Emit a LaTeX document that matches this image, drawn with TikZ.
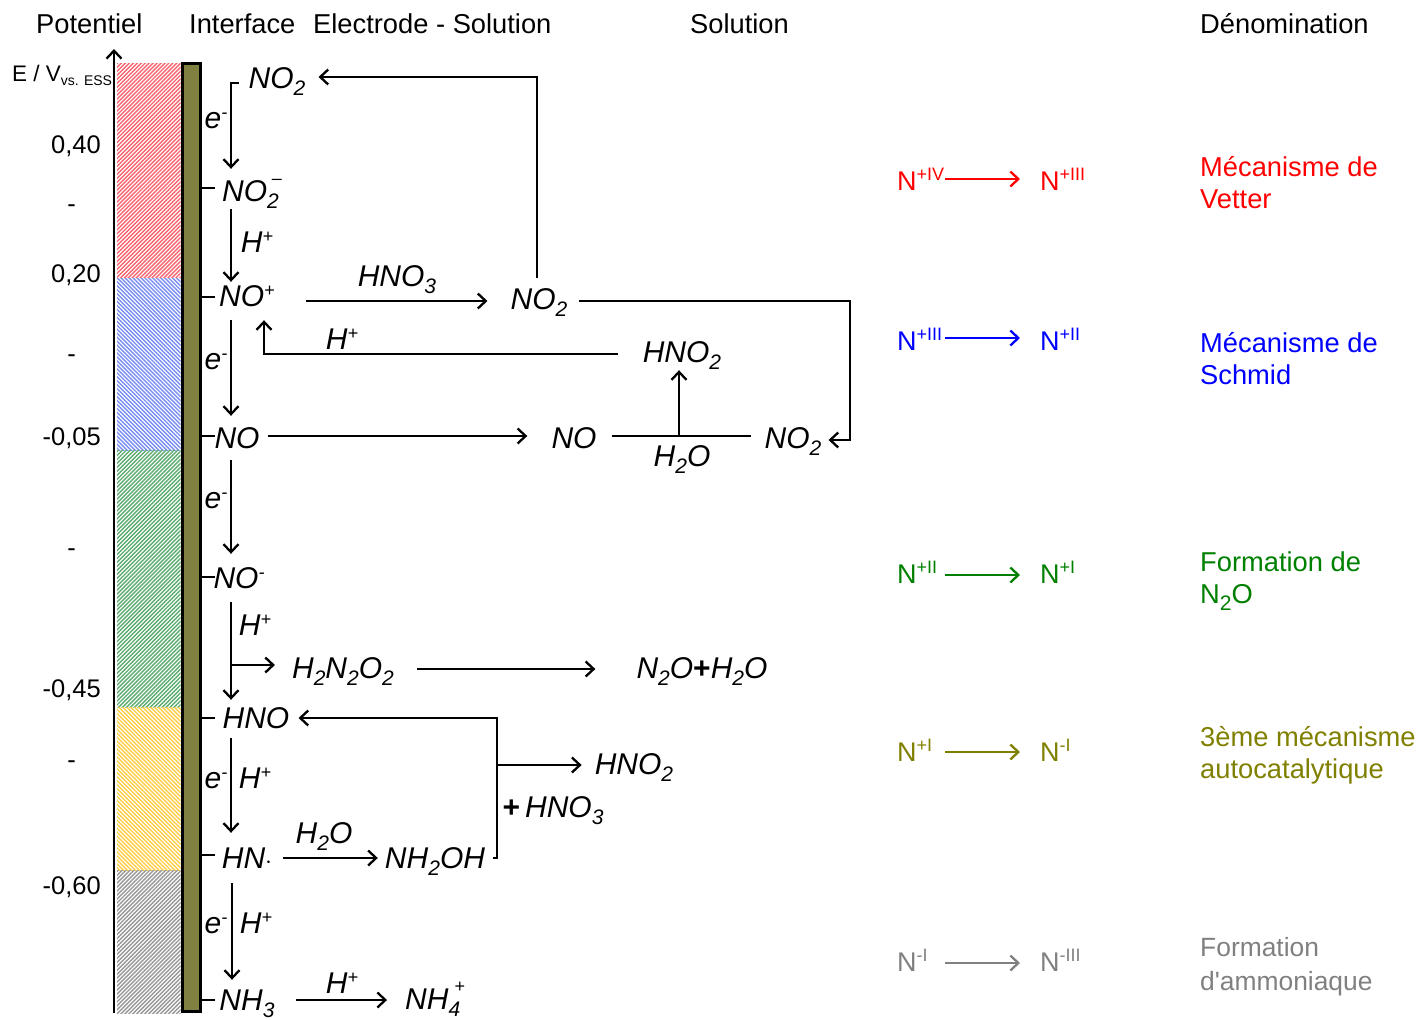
\documentclass[tikz,border=0pt]{standalone}
\usepackage{fontspec}
\setmainfont{Liberation Sans}
\usetikzlibrary{arrows.meta,patterns.meta}
\definecolor{wallolive}{RGB}{128,128,64}
\definecolor{nred}{RGB}{255,0,0}
\definecolor{nblue}{RGB}{0,0,255}
\definecolor{ngreen}{RGB}{0,128,0}
\definecolor{nolive}{RGB}{128,128,0}
\definecolor{ngray}{RGB}{128,128,128}
\definecolor{hred}{RGB}{245,100,110}
\definecolor{hblue}{RGB}{120,140,240}
\definecolor{hgreen}{RGB}{90,170,110}
\definecolor{hyellow}{RGB}{255,205,70}
\definecolor{hgray}{RGB}{150,150,150}
\newcommand{\dn}[1]{\raisebox{-7pt}{\fontsize{21}{21}\selectfont #1}}
\newcommand{\hi}[1]{\raisebox{10pt}{\fontsize{18}{18}\selectfont #1}}
\newcommand{\hier}[1]{\raisebox{17pt}{\fontsize{18}{18}\selectfont #1}}
\tikzset{
	chem/.style={anchor=base,yshift=2pt,inner ysep=0pt,inner xsep=8pt,text height=24pt,text depth=8pt,font=\fontsize{30}{32}\selectfont\itshape},
	head/.style={anchor=base west,inner sep=0pt,font=\fontsize{27.3}{32}\selectfont},
	volt/.style={anchor=base east,inner sep=0pt,font=\fontsize{25.5}{30}\selectfont},
	oxi/.style={anchor=base west,inner sep=0pt,text height=24pt,text depth=2pt,font=\fontsize{27}{32}\selectfont},
	denom/.style={anchor=base west,inner sep=0pt,align=left,font=\fontsize{27.3}{32}\selectfont},
	arr/.style={line width=2.3pt,-{Straight Barb[length=8pt,width=15pt]}},
	lin/.style={line width=2.3pt},
	wall/.style={draw,line width=2.6pt,fill=wallolive,minimum width=17.5pt,minimum height=948pt,inner sep=0pt}
}
\begin{document}
\begin{tikzpicture}[x=1pt,y=-1pt]
	\useasboundingbox (0,0) rectangle (1417,1020);
	% potential bands
	\foreach \c/\a/\t/\b in {hred/45/63/277, hblue/135/278/450, hgreen/45/450/707, hyellow/135/707/870, hgray/45/870/1013}
	\fill[pattern={Lines[angle=\a,distance=2.8pt,line width=1.4pt]},pattern color=\c] (117,\t) rectangle (180.5,\b);
	\coordinate (axbot) at (114,1013);
	\coordinate (axtop) at (114,49);
	\draw[arr] (axbot) -- (axtop);
	\node[wall] (wall) at (191.5,537.5) {};

	% headers
	\node[head] (hpot) at (36,33) {Potentiel};
	\node[head] (hint) at (189,33) {Interface};
	\node[head] (hele) at (313,33) {Electrode - Solution};
	\node[head] (hsol) at (690,33) {Solution};
	\node[head] (hden) at (1200,33) {Dénomination};

	% potential scale
	\node[head,font=\fontsize{22.5}{30}\selectfont] (eaxis) at (12,81) {E / V\raisebox{-4pt}{\fontsize{14}{16}\selectfont vs. ESS}};
	\foreach \n/\t/\y in {a/{0,40}/153, b/{0,20}/282, c/{-0,05}/445, d/{-0,45}/697, e/{-0,60}/894}
	\node[volt] (v\n) at (101,\y) {\t};
	\foreach \n/\y in {a/212, b/362, c/556, d/768}
	\node[volt] (m\n) at (76,\y) {-};

	% species at the electrode
	\node[chem] (no2a) at (277,90) {NO\dn{2}};
	\node[chem] (no2m) at (252,203) {NO\dn{2}\hier{\kern-7pt --}};
	\node[chem] (nop) at (247,308) {NO\hi{+}};
	\node[chem] (no) at (237,450) {NO};
	\node[chem] (nom) at (239,590) {NO\hi{-}};
	\node[chem] (hno) at (256,730) {HNO};
	\node[chem] (hn) at (247,870) {HN$\cdot$};
	\node[chem] (nh3) at (247,1012) {NH\dn{3}};

	% species in solution
	\node[chem] (hno3a) at (397,288) {HNO\dn{3}};
	\node[chem] (no2b) at (539,311) {NO\dn{2}};
	\node[chem] (hno2a) at (682,364) {HNO\dn{2}};
	\node[chem] (hpa) at (342,351) {H\hi{+}};
	\node[chem] (no2c) at (574,450) {NO};
	\node[chem] (h2oa) at (682,468) {H\dn{2}O};
	\node[chem] (no2d) at (793,450) {NO\dn{2}};
	\node[chem] (h2n2o2) at (343,680) {H\dn{2}N\dn{2}O\dn{2}};
	\node[chem] (n2o) at (702,680) {N\dn{2}O{\upshape\bfseries +}H\dn{2}O};
	\node[chem] (hno2b) at (634,776) {HNO\dn{2}};
	\node[chem] (hno3b) at (553,819) {{\upshape\bfseries +}\,HNO\dn{3}};
	\node[chem] (h2ob) at (324,845) {H\dn{2}O};
	\node[chem] (nh2oh) at (435,870) {NH\dn{2}OH};
	\node[chem] (hpb) at (342,995) {H\hi{+}};
	\node[chem] (nh4) at (435,1011) {NH\dn{4}\hier{\kern-6pt +}};

	% charges beside the vertical arrows
	\node[chem] (ea) at (216,130) {e\hi{-}};
	\node[chem] (eb) at (216,371) {e\hi{-}};
	\node[chem] (ec) at (216,510) {e\hi{-}};
	\node[chem] (ed) at (216,790) {e\hi{-}};
	\node[chem] (ee) at (216,935) {e\hi{-}};
	\node[chem] (ha) at (257,254) {H\hi{+}};
	\node[chem] (hb) at (255,637) {H\hi{+}};
	\node[chem] (hc) at (255,790) {H\hi{+}};
	\node[chem] (hd) at (256,935) {H\hi{+}};

	% ticks on the wall
	\foreach \n/\s in {no2m/5, nop/1, no/4, nom/3, hno/2, hn/5, nh3/2}
	\draw[lin] ([yshift=\s pt]\n.west -| wall.east) -- ++(13,0);

	% steps down the interface
	\coordinate (sp) at (231,0);
	\coordinate (brk) at (239,83);
	\coordinate (branch) at (231,665);
	\draw[arr,shorten >=8pt] (brk) -| (no2m.north -| sp);
	\draw[arr] (no2m.south -| sp) -- (nop.north -| sp);
	\draw[arr,shorten <=6pt,shorten >=8pt] (nop.south -| sp) -- (no.north -| sp);
	\draw[arr,shorten <=4pt,shorten >=10pt] (no.south -| sp) -- (nom.north -| sp);
	\draw[arr,shorten <=6pt,shorten >=4pt] (nom.south -| sp) -- (hno.north -| sp);
	\draw[arr,shorten <=2pt,shorten >=11pt] (hno.south -| sp) -- (hn.north -| sp);
	\draw[arr,shorten <=7pt,shorten >=6pt] ([xshift=1pt]hn.south -| sp) -- ([xshift=1pt]nh3.north -| sp);
	\draw[arr] (branch) -- ([xshift=-9pt]branch -| h2n2o2.west);

	% reactions in solution
	\coordinate (upa) at (537,77);
	\coordinate (elb) at (264,354);
	\coordinate (elc) at (850,301);
	\coordinate (eld) at (850,440);
	\coordinate (bar) at (497,718);
	\coordinate (jun) at (679,436);
	\coordinate (tee) at (497,765);
	\draw[arr,shorten <=7pt] (no2b.north -| upa) |- ([xshift=5pt]no2a.east |- upa);
	\draw[arr] (nop.east |- elc) ++(23,0) -- ([xshift=-15pt]no2b.west |- elc);
	\draw[arr] ([xshift=-17pt]hno2a.west |- elb) -| ([yshift=-6pt]nop.south -| elb);
	\draw[arr] ([xshift=3pt]no2b.east |- elc) -| (eld) -- ([xshift=-1pt]no2d.east |- eld);
	\draw[arr] ([yshift=4pt]no.east) -- ([xshift=-16pt,yshift=4pt]no2c.west);
	\draw[lin] ([yshift=4pt,xshift=7pt]no2c.east) -- ([yshift=4pt,xshift=-5pt]no2d.west);
	\draw[arr] (jun) -- (jun |- hno2a.south);
	\draw[arr] ([yshift=1pt]h2n2o2.east) ++(15,0) -- ([xshift=-33pt,yshift=1pt]n2o.west);
	\draw[arr] ([yshift=2pt]nh2oh.east) -| (bar) -- ([xshift=1pt]hno.east |- bar);
	\draw[arr] (tee) -- ([xshift=-5pt]hno2b.west |- tee);
	\draw[arr] ([xshift=3pt,yshift=2pt]hn.east) -- ([xshift=1pt,yshift=2pt]nh2oh.west);
	\draw[arr] ([xshift=13pt,yshift=2pt]nh3.east) -- ([xshift=-10pt,yshift=1pt]nh4.west);

	% oxidation states and names
	\foreach \n/\c/\y/\s/\a/\b in {a/nred/190/0/+IV/+III, b/nblue/350/1/+III/+II, c/ngreen/583/-3/+II/+I, d/nolive/761/-2/+I/-I, e/ngray/971/-3/-I/-III}{
		\node[oxi,text=\c] (ox\n) at (897,\y) {N\hi{\a}};
		\node[oxi,text=\c] (re\n) at (1040,\y) {N\hi{\b}};
		\draw[arr,color=\c] ([xshift=48pt,yshift=\s pt]ox\n.west) -- ([xshift=-20pt,yshift=\s pt]re\n.west);
	}
	\node[denom,text=nred] (vetter) at (1200,208) {Mécanisme de\\Vetter};
	\node[denom,text=nblue] (schmid) at (1200,384) {Mécanisme de\\Schmid};
	\node[denom,text=ngreen] (forma) at (1200,603) {Formation de\\N\dn{2}O};
	\node[denom,text=nolive] (autoc) at (1200,778) {3ème mécanisme\\autocatalytique};
	\node[denom,text=ngray,font=\fontsize{26.4}{34}\selectfont] (ammon) at (1200,990) {Formation\\d\textquotesingle ammoniaque};
\end{tikzpicture}
\end{document}
